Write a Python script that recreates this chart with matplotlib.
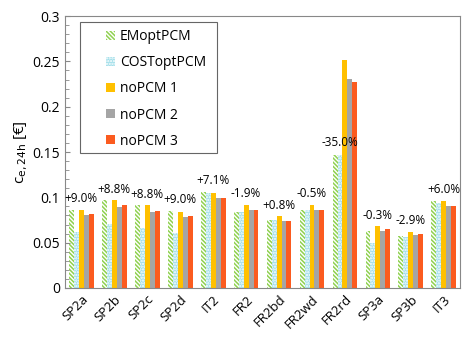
import matplotlib
matplotlib.use("Agg")
import matplotlib.pyplot as plt
from matplotlib.patches import Rectangle
import numpy as np

plt.rcParams['font.family'] = ['Open Sans', 'DejaVu Sans']
plt.rcParams['hatch.linewidth'] = 1.1

# data
cases = ['SP2a', 'SP2b', 'SP2c', 'SP2d', 'IT2', 'FR2', 'FR2bd', 'FR2wd',
         'FR2rd', 'SP3a', 'SP3b', 'IT3']
em_opt = [0.086, 0.097, 0.091, 0.085, 0.106, 0.084, 0.075, 0.086, 0.147, 0.063, 0.057, 0.096]
cost_opt = [0.062, 0.071, 0.066, 0.061, 0.105, 0.084, 0.075, 0.086, 0.147, 0.050, 0.056, 0.094]
nopcm1 = [0.086, 0.097, 0.091, 0.084, 0.105, 0.092, 0.079, 0.092, 0.252, 0.068, 0.062, 0.096]
nopcm2 = [0.080, 0.089, 0.084, 0.078, 0.099, 0.086, 0.074, 0.086, 0.231, 0.063, 0.058, 0.090]
nopcm3 = [0.082, 0.091, 0.085, 0.079, 0.099, 0.086, 0.074, 0.086, 0.227, 0.065, 0.060, 0.090]
diff_labels = ['+9.0%', '+8.8%', '+8.8%', '+9.0%', '+7.1%', '-1.9%', '+0.8%',
               '-0.5%', '-35.0%', '-0.3%', '-2.9%', '+6.0%']

fig = plt.figure(figsize=(4.74, 3.42), dpi=100)
ax = fig.add_axes([0.137, 0.158, 0.834, 0.795])

x = np.arange(len(cases))
w = 0.15

ax.bar(x - 2*w, em_opt, w, facecolor='white', edgecolor='#8fd14f', hatch='\\\\\\\\\\\\\\\\',
       linewidth=0, label='EMoptPCM')
ax.bar(x - w, cost_opt, w, facecolor='#a3dfea', edgecolor='white', hatch='......',
       linewidth=0, label='COSToptPCM')
ax.bar(x, nopcm1, w, color='#ffc000', label='noPCM 1')
ax.bar(x + w, nopcm2, w, color='#a5a5a5', label='noPCM 2')
ax.bar(x + 2*w, nopcm3, w, color='#fb5b1f', label='noPCM 3')

for i in range(len(cases)):
    if nopcm1[i] > 0.2:
        # tall group: label sits over the PCM bars
        ax.text(x[i] - 0.15, em_opt[i] + 0.006, diff_labels[i], ha='center',
                va='bottom', fontsize=8.5)
    else:
        top = max(em_opt[i], cost_opt[i], nopcm1[i])
        ax.text(x[i], top + 0.005, diff_labels[i], ha='center', va='bottom',
                fontsize=8.5)

ax.set_xlim(-0.5, len(cases) - 0.5)
ax.set_ylim(0, 0.3)
ax.set_yticks([0, 0.05, 0.1, 0.15, 0.2, 0.25, 0.3])
ax.set_yticklabels(['0', '0.05', '0.1', '0.15', '0.2', '0.25', '0.3'], fontsize=10)
ax.set_yticks(np.arange(0, 0.301, 0.01), minor=True)
ax.tick_params(axis='y', which='both', direction='in', color='#888888')
ax.tick_params(axis='y', which='minor', length=3)
ax.tick_params(axis='x', length=0)
ax.set_xticks(x)
ax.set_xticklabels(cases, rotation=45, ha='right', rotation_mode='anchor', fontsize=9.5)
ax.set_ylabel(r'c$_{\mathrm{e,24h}}$ [€]', fontsize=11, labelpad=2)

for s in ax.spines.values():
    s.set_color('#888888')

# legend box drawn separately (wide side padding, tight top/bottom)
ax.add_patch(Rectangle((0.038, 0.496), 0.347, 0.482, transform=ax.transAxes,
                       facecolor='white', edgecolor='#666666', linewidth=0.8,
                       zorder=4))
leg = ax.legend(loc='upper left', bbox_to_anchor=(0.098, 0.962), fontsize=10,
                frameon=False, handlelength=0.6, handleheight=0.6,
                labelspacing=0.8, borderpad=0.2, handletextpad=0.35,
                borderaxespad=0)
leg.set_zorder(5)

fig.savefig('out.png', dpi=100)
